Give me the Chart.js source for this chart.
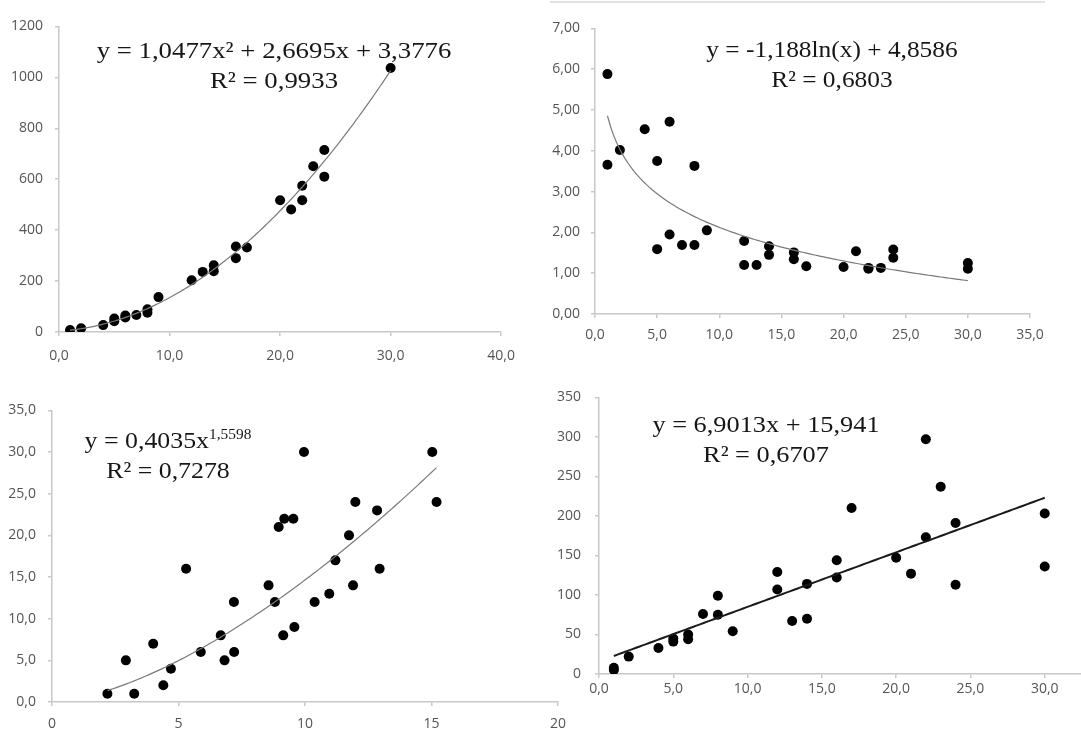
<!DOCTYPE html>
<html>
<head>
<meta charset="utf-8">
<script src="https://cdn.jsdelivr.net/npm/chart.js@4.4.1/dist/chart.umd.min.js"></script>
<style>
html, body { margin: 0; padding: 0; overflow: hidden; background: #fff; width: 1081px; height: 731px; }
canvas { position: absolute; }
#topLine { position: absolute; left: 550px; top: 1px; width: 495px; height: 0; border-top: 2px solid #e2e2e2; }
</style>
</head>
<body>
<div id="topLine"></div>
<canvas id="c1"></canvas>
<canvas id="c2"></canvas>
<canvas id="c3"></canvas>
<canvas id="c4"></canvas>
<script>
// chart 1 - polynomial
const c1X = [1, 2, 4, 5, 5, 6, 6, 7, 8, 8, 9, 12, 13, 14, 14, 16, 16, 17, 20, 21, 22, 22, 23, 24, 24, 30];
const c1Y = [8, 15, 27, 42, 53, 57, 65, 67, 89, 76, 137, 203, 236, 262, 239, 336, 290, 332, 517, 481, 574, 517, 651, 715, 610, 1037];
const c1XTicks = [0, 10, 20, 30, 40];
const c1YTicks = [0, 200, 400, 600, 800, 1000, 1200];
const c1Fit = [1.0477, 2.6695, 3.3776];

// chart 2 - logarithmic
const c2X = [1, 1, 2, 4, 5, 5, 6, 6, 7, 8, 8, 9, 12, 12, 13, 14, 14, 16, 16, 17, 20, 21, 22, 22, 23, 24, 24, 30, 30];
const c2Y = [5.88, 3.66, 4.02, 4.53, 3.75, 1.59, 4.71, 1.95, 1.69, 3.63, 1.69, 2.05, 1.79, 1.20, 1.20, 1.66, 1.45, 1.51, 1.34, 1.17, 1.15, 1.54, 1.13, 1.11, 1.13, 1.58, 1.38, 1.25, 1.11];
const c2XTicks = [0, 5, 10, 15, 20, 25, 30, 35];
const c2YTicks = [0, 1, 2, 3, 4, 5, 6, 7];
const c2Fit = [-1.188, 4.8586];

// chart 3 - power
const c3X = [2.19, 2.92, 3.25, 4.0, 4.4, 4.7, 5.3, 5.88, 6.67, 6.82, 7.19, 7.2, 8.56, 8.81, 8.96, 9.14, 9.18, 9.54, 9.58, 9.96, 10.38, 10.96, 11.2, 11.74, 11.9, 11.99, 12.85, 12.95, 15.03, 15.2];
const c3Y = [1, 5, 1, 7, 2, 4, 16, 6, 8, 5, 12, 6, 14, 12, 21, 8, 22, 22, 9, 30, 12, 13, 17, 20, 14, 24, 23, 16, 30, 24];
const c3XTicks = [0, 5, 10, 15, 20];
const c3YTicks = [0, 5, 10, 15, 20, 25, 30, 35];
const c3Fit = [0.4035, 1.5598];

// chart 4 - linear
const c4X = [1, 1, 2, 4, 5, 5, 6, 6, 7, 8, 8, 9, 12, 12, 13, 14, 14, 16, 16, 17, 20, 21, 22, 22, 23, 24, 24, 30, 30];
const c4Y = [8, 5, 22, 33, 45, 41, 50, 44, 76, 99, 75, 54, 129, 107, 67, 114, 70, 144, 122, 210, 147, 127, 297, 173, 237, 191, 113, 203, 136];
const c4XTicks = [0, 5, 10, 15, 20, 25, 30, 35];
const c4YTicks = [0, 50, 100, 150, 200, 250, 300, 350];
const c4Fit = [6.9013, 15.941];

const PAD_TOP = 12, PAD_RIGHT = 25;
const AXIS_COLOR = '#c8c8c8';
const TICK_COLOR = '#555555';
const EQ_FONT = '"Liberation Serif", "Times New Roman", serif';

const comma = (v, d) => v.toFixed(d).replace('.', ',');

// draws the fitted trend curve through the chart scales
const trendPlugin = {
    id: 'trend',
    afterDatasetsDraw(chart, args, opts) {
        if (!opts.fn) return;
        const { ctx, scales: { x, y } } = chart;
        ctx.save();
        ctx.strokeStyle = opts.color;
        ctx.lineWidth = opts.width;
        ctx.beginPath();
        const n = 120;
        for (let i = 0; i <= n; i++) {
            const xv = opts.from + (opts.to - opts.from) * i / n;
            const px = x.getPixelForValue(xv), py = y.getPixelForValue(opts.fn(xv));
            if (i === 0) ctx.moveTo(px, py); else ctx.lineTo(px, py);
        }
        ctx.stroke();
        ctx.restore();
    }
};

// equation + R² text
const eqPlugin = {
    id: 'eq',
    afterDraw(chart, args, opts) {
        if (!opts.lines) return;
        const { ctx, chartArea } = chart;
        ctx.save();
        ctx.fillStyle = '#161616';
        ctx.textBaseline = 'alphabetic';
        ctx.textAlign = 'left';
        opts.lines.forEach(line => {
            let w = 0;
            line.parts.forEach(p => {
                ctx.font = p.size + 'px ' + EQ_FONT;
                p.w = ctx.measureText(p.text).width;
                w += p.w;
            });
            const cx = chartArea.left + line.cx;
            const by = chartArea.top + line.y;
            ctx.save();
            ctx.translate(cx, by);
            ctx.scale(opts.stretch, 1);
            let xx = -w / 2;
            line.parts.forEach(p => {
                ctx.font = p.size + 'px ' + EQ_FONT;
                ctx.fillText(p.text, xx, -(p.rise || 0));
                xx += p.w;
            });
            ctx.restore();
        });
        ctx.restore();
    }
};

function makeChart(id, area, yw, xh, xs, ys, xTicks, yTicks, xFmt, yFmt, xPad, yPad, trend, eq) {
    const canvas = document.getElementById(id);
    const w = area.r - area.l + yw + PAD_RIGHT;
    const h = area.b - area.t + PAD_TOP + xh;
    canvas.width = w;
    canvas.height = h;
    canvas.style.width = w + 'px';
    canvas.style.height = h + 'px';
    canvas.style.left = (area.l - yw) + 'px';
    canvas.style.top = (area.t - PAD_TOP) + 'px';

    const points = xs.map((v, i) => ({ x: v, y: ys[i] }));
    const axis = (ticks, fmt, pad, size, pos) => ({
        type: 'linear',
        position: pos,
        min: ticks[0],
        max: ticks[ticks.length - 1],
        afterBuildTicks: s => { s.ticks = ticks.map(v => ({ value: v })); },
        afterFit: s => { if (pos === 'left') s.width = size; else s.height = size; },
        grid: { display: true, drawOnChartArea: false, drawTicks: true, tickLength: 4, color: AXIS_COLOR, lineWidth: 1.5 },
        border: { display: true, color: AXIS_COLOR, width: 1.5 },
        ticks: {
            color: TICK_COLOR,
            padding: pad,
            maxRotation: 0,
            autoSkip: false,
            font: { family: '"Open Sans", sans-serif', size: 14 },
            callback: v => fmt(v)
        }
    });

    return new Chart(canvas, {
        type: 'scatter',
        data: {
            datasets: [{
                data: points,
                backgroundColor: '#000',
                borderWidth: 0,
                pointRadius: 5,
                pointHoverRadius: 5
            }]
        },
        options: {
            responsive: false,
            animation: false,
            layout: { padding: { top: PAD_TOP, right: PAD_RIGHT, left: 0, bottom: 0 } },
            scales: {
                x: axis(xTicks, xFmt, xPad, xh, 'bottom'),
                y: axis(yTicks, yFmt, yPad, yw, 'left')
            },
            plugins: {
                legend: { display: false },
                tooltip: { enabled: false },
                trend: trend,
                eq: eq
            }
        },
        plugins: [trendPlugin, eqPlugin]
    });
}

const SZ = 23.5;

makeChart('c1', { l: 59, t: 18, r: 502, b: 332 }, 59, 42, c1X, c1Y, c1XTicks, c1YTicks,
    v => comma(v, 1), v => String(v), 12, 12,
    { fn: x => c1Fit[0] * x * x + c1Fit[1] * x + c1Fit[2], from: 1, to: 30, color: '#7a7a7a', width: 1.2 },
    { stretch: 1.14, lines: [
        { cx: 215, y: 32, parts: [{ text: 'y = ' + comma(c1Fit[0], 4) + 'x² + ' + comma(c1Fit[1], 4) + 'x + ' + comma(c1Fit[2], 4), size: SZ }] },
        { cx: 215, y: 62, parts: [{ text: 'R² = 0,9933', size: SZ }] }
    ] });

makeChart('c2', { l: 595, t: 21, r: 1030, b: 314 }, 55, 38, c2X, c2Y, c2XTicks, c2YTicks,
    v => comma(v, 1), v => comma(v, 2), 9, 11,
    { fn: x => c2Fit[0] * Math.log(x) + c2Fit[1], from: 1, to: 30, color: '#7a7a7a', width: 1.2 },
    { stretch: 1.08, lines: [
        { cx: 237, y: 29, parts: [{ text: 'y = ' + comma(c2Fit[0], 3) + 'ln(x) + ' + comma(c2Fit[1], 4), size: SZ }] },
        { cx: 237, y: 59, parts: [{ text: 'R² = 0,6803', size: SZ }] }
    ] });

makeChart('c3', { l: 52, t: 402, r: 558, b: 702 }, 52, 29, c3X, c3Y, c3XTicks, c3YTicks,
    v => String(v), v => comma(v, 1), 10, 12,
    { fn: x => c3Fit[0] * Math.pow(x, c3Fit[1]), from: 2.19, to: 15.2, color: '#7a7a7a', width: 1.2 },
    { stretch: 1.1, lines: [
        { cx: 116, y: 38, parts: [{ text: 'y = ' + comma(c3Fit[0], 4) + 'x', size: SZ }, { text: comma(c3Fit[1], 4), size: 14, rise: 9 }] },
        { cx: 116, y: 68, parts: [{ text: 'R² = 0,7278', size: SZ }] }
    ] });

makeChart('c4', { l: 599, t: 387, r: 1119, b: 674 }, 55, 36, c4X, c4Y, c4XTicks, c4YTicks,
    v => comma(v, 1), v => String(v), 3, 14,
    { fn: x => c4Fit[0] * x + c4Fit[1], from: 1, to: 30, color: '#1a1a1a', width: 2 },
    { stretch: 1.12, lines: [
        { cx: 167, y: 35, parts: [{ text: 'y = ' + comma(c4Fit[0], 4) + 'x + ' + comma(c4Fit[1], 3), size: SZ }] },
        { cx: 167, y: 65, parts: [{ text: 'R² = 0,6707', size: SZ }] }
    ] });
</script>
</body>
</html>
